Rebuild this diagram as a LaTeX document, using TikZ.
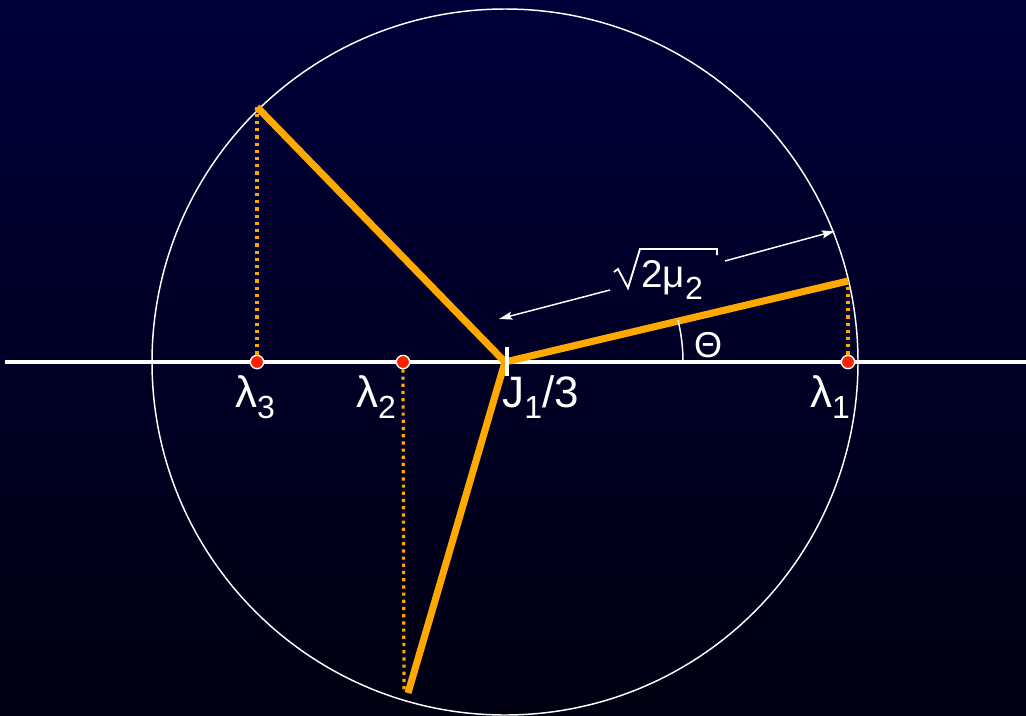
\documentclass[tikz,border=0pt]{standalone}
\usepackage{fontspec}
\setmainfont{Liberation Sans}
\usetikzlibrary{arrows.meta}
\definecolor{bgtop}{RGB}{0,0,58}
\definecolor{bgbot}{RGB}{0,0,18}
\definecolor{myorange}{RGB}{255,168,0}
\definecolor{myred}{RGB}{250,35,0}
\newcommand\mysub[1]{\raisebox{-8.5pt}{\fontsize{24}{24}\selectfont #1}}
\tikzset{
  axisline/.style={white, line width=2.3pt},
  circline/.style={white, line width=1.1pt},
  arm/.style={myorange, line width=5.3pt},
  proj/.style={myorange, line width=2.4pt, dash pattern=on 2.4pt off 3pt},
  dotnode/.style={circle, fill=myred, draw=white, line width=1pt, inner sep=0pt, minimum size=10pt},
  lbl/.style={white, font=\fontsize{33}{33}\selectfont, inner sep=0pt},
  dimarrow/.style={white, line width=1.1pt},
}
\begin{document}
\begin{tikzpicture}[x=0.75pt, y=-0.75pt]
\shade[top color=bgtop, bottom color=bgbot] (0,0) rectangle (1026,715);
\useasboundingbox (0,0) rectangle (1026,715);
% coordinates
\coordinate (C) at (505,362);
\coordinate (P1) at (848,281);
\coordinate (P2) at (257,107);
\coordinate (P3) at (408,693);
\coordinate (P3p) at (404,690);
\coordinate (AL) at (5,362);
\coordinate (AR) at (1026,362);
% circle and axis
\draw[circline] (C) circle[radius=353];
\draw[axisline] (AL) -- (AR);
% projections
\node[dotnode] (l1) at (848,362) {};
\node[dotnode] (l2) at (403,362) {};
\node[dotnode] (l3) at (257,362) {};
\draw[proj] (l1.north) -- (P1);
\draw[proj] (l3.north) -- (P2);
\draw[proj] (l2.south) -- (P3p);
% arms
\draw[arm, line join=miter] (P2) -- (C) -- (P1);
\draw[arm] (C) -- (P3);
% center tick
\coordinate (T1) at (507,347);
\coordinate (T2) at (507,376);
\draw[white, line width=2.3pt] (T1) -- (T2);
% angle arc
\draw[white, line width=1.1pt] (683,362) arc[start angle=0, end angle=-13.6, radius=178];
\node[lbl, font=\fontsize{27}{27}\selectfont, anchor=base] (theta) at (708,357) {Θ};
% dimension arrow
\coordinate (DA) at (499,319);
\coordinate (DA2) at (610,290);
\coordinate (DB2) at (725,261);
\coordinate (DB) at (835,231);
\draw[dimarrow, -{Stealth[length=10pt, width=6pt, inset=2pt]}] (DA2) -- (DA);
\draw[dimarrow, -{Stealth[length=10pt, width=6pt, inset=2pt]}] (DB2) -- (DB);
% radical sign drawn by hand
\coordinate (R0) at (614,272);
\coordinate (R1) at (618,269);
\coordinate (R2) at (628,288);
\coordinate (R3) at (640,249);
\coordinate (R4) at (717,249);
\coordinate (R5) at (717,255);
\draw[white, line width=1.4pt, line join=miter] (R0) -- (R1) -- (R2) -- (R3) -- (R4) -- (R5);
\node[lbl, font=\fontsize{29}{29}\selectfont, anchor=base west] (mu) at (641,287) {2μ\raisebox{-9pt}{\fontsize{24}{24}\selectfont 2}};
% labels
\node[lbl, anchor=base] (lam3) at (255,407) {λ\mysub{3}};
\node[lbl, anchor=base] (lam2) at (376,407) {λ\mysub{2}};
\node[lbl, anchor=base] (lam1) at (830,407) {λ\mysub{1}};
\node[lbl, anchor=base west] (J) at (502,407) {J\mysub{1}/3};
\end{tikzpicture}
\end{document}
